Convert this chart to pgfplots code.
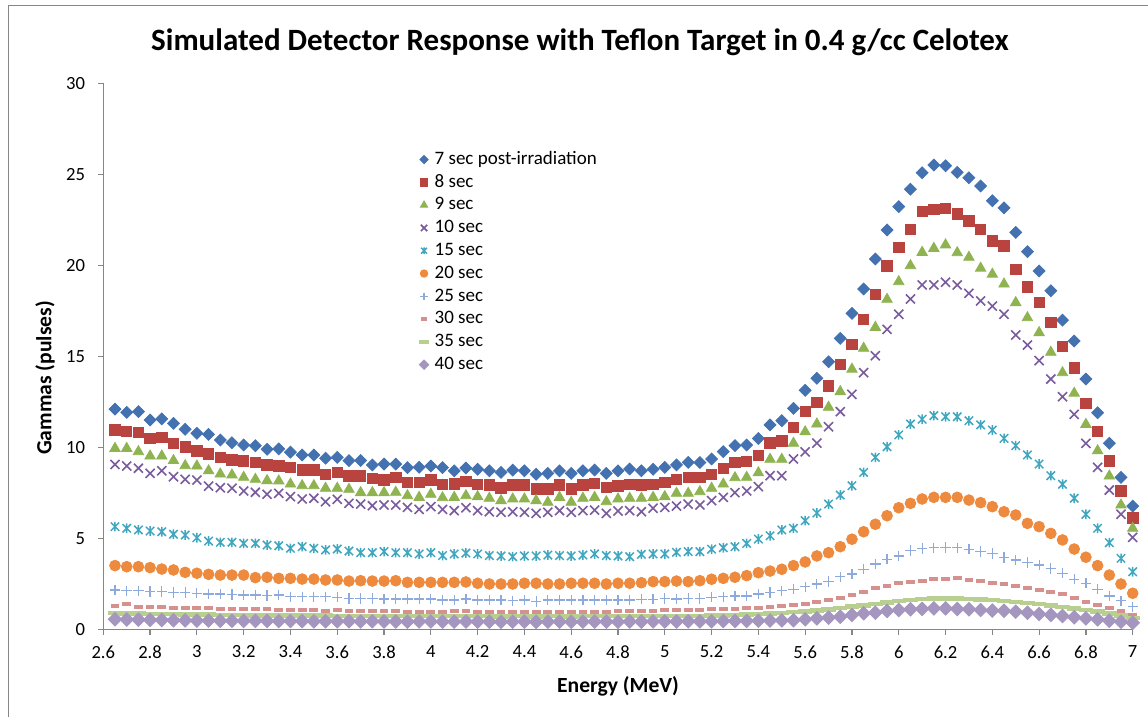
\documentclass[border=0pt]{standalone}
\usepackage{fontspec}
\setmainfont{Carlito}
\usepackage{pgfplots}
\pgfplotsset{compat=1.18}
\usepackage{pgfplotstable}

\definecolor{c1}{HTML}{4472B0}
\definecolor{c2}{HTML}{B8433F}
\definecolor{c3}{HTML}{8FB351}
\definecolor{c4}{HTML}{7A5C9E}
\definecolor{c5}{HTML}{41A7C0}
\definecolor{c6}{HTML}{EE8A3E}
\definecolor{c7}{HTML}{8EA9DB}
\definecolor{c8}{HTML}{D6918F}
\definecolor{c9}{HTML}{B8CF8F}
\definecolor{c10}{HTML}{A596BF}
\definecolor{axgray}{HTML}{868686}

% Excel style "star": an x with a vertical bar
\pgfdeclareplotmark{xstar}{%
  \pgfpathmoveto{\pgfqpoint{-.7\pgfplotmarksize}{-.7\pgfplotmarksize}}%
  \pgfpathlineto{\pgfqpoint{.7\pgfplotmarksize}{.7\pgfplotmarksize}}%
  \pgfpathmoveto{\pgfqpoint{-.7\pgfplotmarksize}{.7\pgfplotmarksize}}%
  \pgfpathlineto{\pgfqpoint{.7\pgfplotmarksize}{-.7\pgfplotmarksize}}%
  \pgfpathmoveto{\pgfqpoint{0pt}{-.8\pgfplotmarksize}}%
  \pgfpathlineto{\pgfqpoint{0pt}{.8\pgfplotmarksize}}%
  \pgfusepathqstroke}

% energy (MeV) and gammas for each delay after irradiation
\pgfplotstableread{
E    s7    s8    s9    s10   s15   s20   s25   s30   s35   s40
2.65 12.10 10.95 9.94  9.06  5.64  3.50  2.16  1.30  0.90  0.55
2.70 11.92 10.86 9.94  8.97  5.55  3.44  2.12  1.37  0.88  0.54
2.75 11.96 10.82 9.76  8.85  5.46  3.44  2.12  1.24  0.87  0.53
2.80 11.50 10.49 9.52  8.57  5.40  3.39  2.07  1.24  0.85  0.52
2.85 11.56 10.55 9.52  8.71  5.36  3.31  2.07  1.24  0.84  0.51
2.90 11.32 10.22 9.27  8.38  5.22  3.26  2.03  1.19  0.83  0.50
2.95 10.99 10.03 8.99  8.24  5.18  3.13  2.03  1.15  0.82  0.49
3.00 10.77 9.80  8.97  8.20  5.03  3.08  1.98  1.15  0.81  0.48
3.05 10.71 9.63  8.71  7.87  4.85  3.02  1.94  1.15  0.80  0.48
3.10 10.40 9.45  8.53  7.78  4.78  2.98  1.94  1.10  0.79  0.47
3.15 10.25 9.30  8.48  7.75  4.78  2.98  1.92  1.10  0.78  0.47
3.20 10.13 9.25  8.35  7.60  4.72  2.98  1.88  1.10  0.78  0.46
3.25 10.09 9.17  8.24  7.53  4.72  2.84  1.88  1.10  0.77  0.46
3.30 9.89  9.03  8.17  7.42  4.63  2.86  1.85  1.10  0.77  0.46
3.35 9.91  8.97  8.15  7.47  4.59  2.80  1.88  1.06  0.76  0.45
3.40 9.73  8.88  7.98  7.29  4.45  2.80  1.79  1.06  0.76  0.45
3.45 9.58  8.75  7.89  7.16  4.54  2.76  1.79  1.06  0.75  0.45
3.50 9.58  8.75  7.89  7.20  4.45  2.76  1.79  1.06  0.75  0.44
3.55 9.40  8.52  7.75  7.01  4.36  2.71  1.79  1.02  0.75  0.44
3.60 9.45  8.63  7.75  7.14  4.41  2.71  1.76  1.06  0.74  0.44
3.65 9.27  8.42  7.69  6.92  4.30  2.65  1.70  1.02  0.74  0.44
3.70 9.27  8.42  7.51  6.88  4.21  2.67  1.70  1.02  0.73  0.43
3.75 9.03  8.30  7.51  6.79  4.21  2.65  1.70  1.02  0.74  0.44
3.80 9.08  8.20  7.51  6.83  4.27  2.65  1.66  1.02  0.73  0.43
3.85 9.08  8.35  7.53  6.83  4.21  2.67  1.66  1.02  0.73  0.43
3.90 8.88  8.08  7.34  6.70  4.21  2.58  1.66  0.97  0.72  0.42
3.95 8.90  8.06  7.25  6.59  4.14  2.58  1.66  0.97  0.73  0.43
4.00 8.97  8.20  7.42  6.74  4.21  2.58  1.66  0.97  0.73  0.43
4.05 8.88  7.97  7.23  6.59  4.05  2.58  1.61  0.97  0.72  0.42
4.10 8.71  7.98  7.25  6.52  4.14  2.58  1.61  0.99  0.72  0.42
4.15 8.86  8.11  7.34  6.68  4.19  2.60  1.66  1.02  0.73  0.43
4.20 8.79  7.97  7.29  6.52  4.14  2.53  1.61  0.97  0.72  0.42
4.25 8.71  7.93  7.20  6.46  4.05  2.49  1.61  0.97  0.72  0.42
4.30 8.62  7.78  7.07  6.43  4.03  2.49  1.61  0.97  0.71  0.41
4.35 8.75  7.93  7.16  6.46  3.99  2.49  1.57  0.97  0.72  0.42
4.40 8.71  7.93  7.16  6.43  4.03  2.53  1.61  0.97  0.72  0.42
4.45 8.52  7.71  7.07  6.37  4.03  2.53  1.52  0.97  0.71  0.41
4.50 8.57  7.71  6.98  6.43  4.08  2.49  1.61  0.97  0.72  0.42
4.55 8.71  7.93  7.25  6.52  4.05  2.49  1.61  0.97  0.72  0.42
4.60 8.57  7.71  6.98  6.43  4.03  2.53  1.61  0.97  0.71  0.41
4.65 8.71  7.93  7.20  6.52  4.08  2.53  1.61  0.97  0.72  0.42
4.70 8.75  8.02  7.25  6.55  4.14  2.53  1.61  0.97  0.72  0.42
4.75 8.57  7.80  7.01  6.37  4.05  2.49  1.61  0.97  0.72  0.42
4.80 8.71  7.87  7.16  6.50  4.03  2.53  1.61  0.99  0.72  0.42
4.85 8.81  7.97  7.20  6.52  3.99  2.53  1.61  0.99  0.73  0.43
4.90 8.71  7.93  7.20  6.46  4.12  2.56  1.65  0.99  0.72  0.42
4.95 8.79  7.97  7.25  6.65  4.14  2.62  1.65  1.02  0.73  0.43
5.00 8.90  8.06  7.29  6.70  4.14  2.62  1.70  1.06  0.73  0.43
5.05 9.03  8.24  7.47  6.77  4.23  2.65  1.66  1.06  0.74  0.43
5.10 9.17  8.33  7.47  6.88  4.27  2.62  1.70  1.06  0.74  0.44
5.15 9.16  8.33  7.56  6.83  4.27  2.67  1.70  1.06  0.74  0.44
5.20 9.36  8.52  7.75  7.07  4.40  2.75  1.76  1.10  0.75  0.44
5.25 9.76  8.85  7.98  7.25  4.48  2.80  1.79  1.10  0.77  0.45
5.30 10.09 9.17  8.33  7.51  4.54  2.86  1.83  1.10  0.79  0.46
5.35 10.13 9.21  8.35  7.60  4.72  2.95  1.83  1.15  0.81  0.46
5.40 10.49 9.54  8.60  7.84  4.96  3.11  1.94  1.19  0.84  0.47
5.45 11.23 10.25 9.34  8.44  5.14  3.20  2.03  1.24  0.87  0.48
5.50 11.46 10.35 9.34  8.44  5.46  3.30  2.12  1.30  0.90  0.49
5.55 12.14 11.10 10.22 9.36  5.55  3.50  2.20  1.34  0.94  0.50
5.60 13.13 11.96 10.85 9.75  5.97  3.70  2.34  1.40  0.98  0.55
5.65 13.79 12.46 11.28 10.23 6.39  4.03  2.49  1.52  1.03  0.60
5.70 14.70 13.37 12.20 11.13 6.88  4.21  2.62  1.61  1.09  0.64
5.75 15.99 14.56 13.06 11.96 7.38  4.54  2.89  1.70  1.16  0.69
5.80 17.36 15.66 14.29 12.91 7.89  4.95  3.04  1.88  1.24  0.79
5.85 18.70 17.03 15.44 14.10 8.62  5.36  3.30  2.07  1.32  0.88
5.90 20.35 18.41 16.59 15.03 9.45  5.77  3.59  2.25  1.40  0.91
5.95 21.94 19.96 18.13 16.48 10.03 6.24  3.85  2.40  1.48  1.01
6.00 23.22 20.99 19.10 17.31 10.68 6.68  4.03  2.53  1.55  1.06
6.05 24.18 21.98 19.98 18.15 11.28 6.92  4.32  2.62  1.61  1.10
6.10 25.09 22.95 20.71 18.92 11.54 7.16  4.45  2.67  1.66  1.12
6.15 25.51 23.08 20.93 18.92 11.74 7.25  4.48  2.75  1.69  1.15
6.20 25.47 23.13 21.12 19.07 11.68 7.25  4.50  2.75  1.70  1.15
6.25 25.11 22.82 20.69 18.92 11.68 7.25  4.48  2.80  1.69  1.12
6.30 24.81 22.43 20.44 18.46 11.46 7.10  4.40  2.71  1.67  1.10
6.35 24.36 21.98 19.84 18.04 11.23 6.96  4.27  2.65  1.64  1.06
6.40 23.55 21.35 19.51 17.76 10.95 6.74  4.17  2.56  1.60  1.03
6.45 23.16 21.06 18.97 17.31 10.49 6.46  3.94  2.47  1.55  1.02
6.50 21.81 19.78 17.95 16.17 10.09 6.28  3.81  2.38  1.50  0.97
6.55 20.75 18.82 17.12 15.62 9.58  5.82  3.68  2.25  1.44  0.91
6.60 19.69 17.95 16.30 14.76 9.08  5.64  3.53  2.16  1.38  0.84
6.65 18.60 16.85 15.22 13.75 8.44  5.27  3.35  2.07  1.31  0.79
6.70 16.99 15.53 14.10 12.78 7.97  4.91  3.08  1.92  1.23  0.73
6.75 15.84 14.37 12.97 11.81 7.20  4.41  2.75  1.70  1.15  0.66
6.80 13.75 12.42 11.26 10.22 6.32  3.96  2.53  1.52  1.06  0.60
6.85 11.90 10.86 9.81  8.90  5.55  3.50  2.20  1.34  0.97  0.55
6.90 10.22 9.26  8.42  7.65  4.76  2.98  1.83  1.15  0.87  0.47
6.95 8.35  7.60  6.83  6.32  3.90  2.49  1.57  1.01  0.75  0.42
7.00 6.77  6.13  5.55  5.05  3.16  1.98  1.24  0.79  0.62  0.36
}\gammas

\begin{document}
\begin{tikzpicture}[x=1pt,y=1pt]
\useasboundingbox (0,0) rectangle (574,-358.5);
% chart area frame
\draw[line width=0.6pt, axgray] (4.2,-360) -- (4.2,-2.6) -- (580,-2.6);

\node[font=\fontsize{15.5}{18}\selectfont\bfseries] at (290,-21)
  {Simulated Detector Response with Teflon Target in 0.4 g/cc Celotex};
\node[font=\fontsize{10.8}{13}\selectfont\bfseries, rotate=90] at (22.5,-189)
  {Gammas (pulses)};
\node[font=\fontsize{10.8}{13}\selectfont\bfseries] at (309,-343)
  {Energy (MeV)};

\begin{axis}[
  at={(51.65pt,-314.65pt)}, anchor=south west,
  scale only axis, width=514.7pt, height=273pt,
  xmin=2.6, xmax=7, ymin=0, ymax=30,
  axis x line=bottom, axis y line=left,
  axis line style={-, axgray, line width=0.6pt},
  xtick={2.6,2.8,3,3.2,3.4,3.6,3.8,4,4.2,4.4,4.6,4.8,5,5.2,5.4,5.6,5.8,6,6.2,6.4,6.6,6.8,7},
  ytick={0,5,10,15,20,25,30},
  tick align=outside, major tick length=2.6pt,
  tick style={axgray, line width=0.6pt},
  /pgf/number format/assume math mode=true,
  /pgf/number format/fixed,
  ticklabel style={font=\fontsize{9.3}{11}\selectfont},
  xticklabel style={yshift=-2pt},
  yticklabel style={xshift=-3pt},
  clip=false,
  only marks,
  legend style={draw=none, fill=none, at={(0.305,0.882)}, anchor=north west,
    font=\fontsize{9.5}{11}\selectfont, inner sep=0pt, row sep=0pt, column sep=1pt,
    nodes={text height=7pt, text depth=2.2pt, inner sep=1.1pt}},
  legend cell align=left,
  legend image code/.code={%
    \path (-3pt,0pt) (3pt,0pt);
    \draw[#1, only marks, every mark/.append style={scale=0.7}] plot coordinates {(0pt,0pt)};},
]
\addplot[mark=square*, mark size=2.1pt, mark options={rotate=45, fill=c1, draw=c1}] table[x=E, y=s7] {\gammas};
\addplot[mark=square*, mark size=2.6pt, mark options={fill=c2, draw=c2}] table[x=E, y=s8] {\gammas};
\addplot[mark=triangle*, mark size=3pt, mark options={fill=c3, draw=c3}] table[x=E, y=s9] {\gammas};
\addplot[mark=x, mark size=3.2pt, mark options={draw=c4, line width=0.8pt}] table[x=E, y=s10] {\gammas};
\addplot[mark=xstar, mark size=3pt, mark options={draw=c5, line width=0.75pt}] table[x=E, y=s15] {\gammas};
\addplot[mark=*, mark size=2.7pt, mark options={fill=c6, draw=c6}] table[x=E, y=s20] {\gammas};
\addplot[mark=+, mark size=2.6pt, mark options={draw=c7, line width=0.6pt}] table[x=E, y=s25] {\gammas};
\addplot[mark=-, mark size=2.2pt, mark options={draw=c8, line width=2pt}] table[x=E, y=s30] {\gammas};
\addplot[mark=-, mark size=3.6pt, mark options={draw=c9, line width=2.3pt}] table[x=E, y=s35] {\gammas};
\addplot[mark=square*, mark size=2.4pt, mark options={rotate=45, fill=c10, draw=c10}] table[x=E, y=s40] {\gammas};
\legend{7 sec post-irradiation, 8 sec, 9 sec, 10 sec, 15 sec, 20 sec, 25 sec, 30 sec, 35 sec, 40 sec}
\end{axis}
\end{tikzpicture}
\end{document}
